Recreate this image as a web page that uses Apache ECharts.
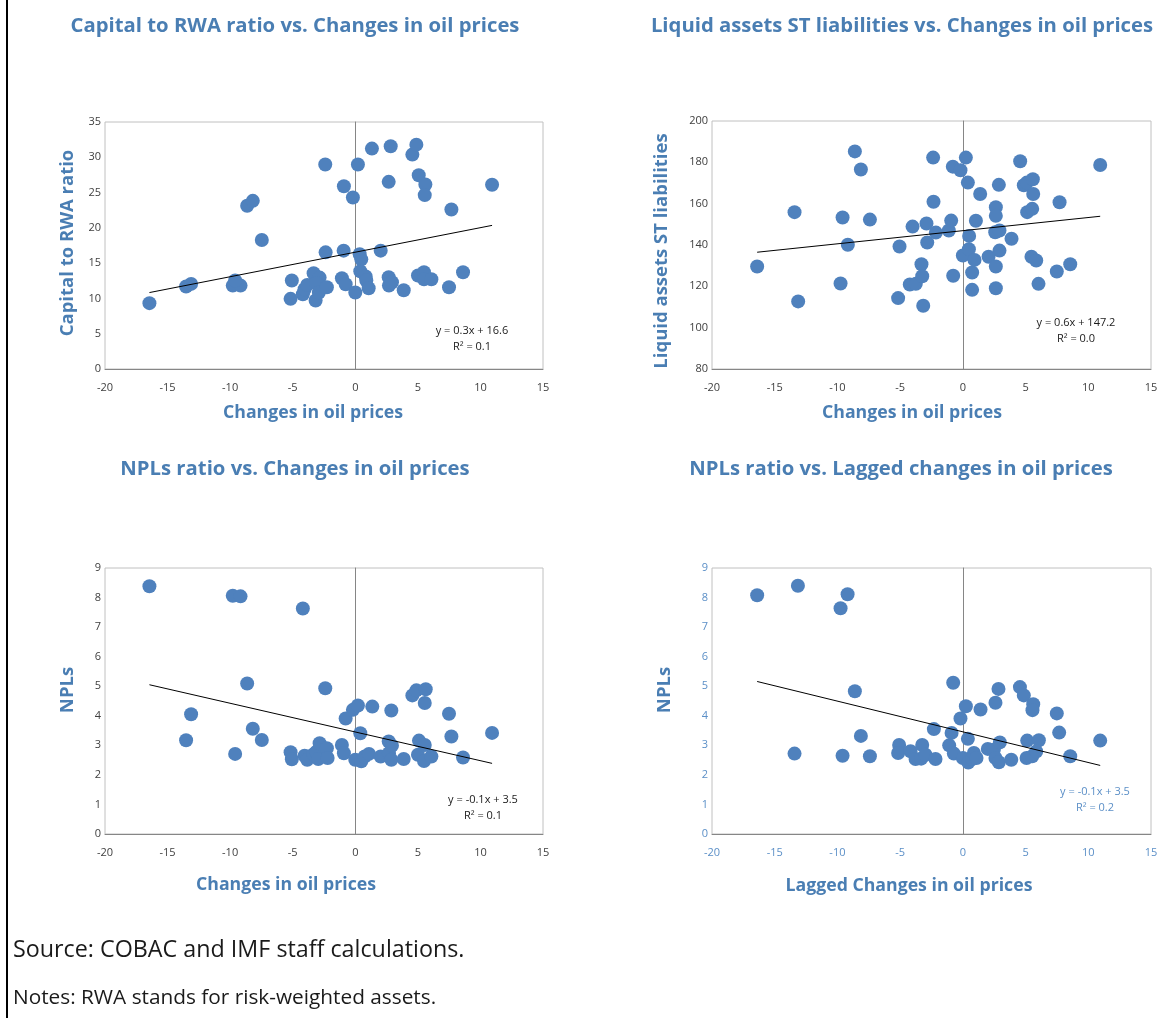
<!DOCTYPE html>
<html>
<head>
<meta charset="utf-8">
<script src="https://cdn.jsdelivr.net/npm/echarts@6/dist/echarts.min.js"></script>
<style>
html,body{margin:0;padding:0;background:#fff;}
#chart{width:1175px;height:1018px;}
</style>
</head>
<body>
<div id="chart"></div>
<script>
// ---------- Data ----------
// Panel 1: Capital to RWA ratio vs. changes in oil prices
var capX = [-16.45,-13.52,-13.12,-9.79,-9.17,-9.6,-8.64,-8.19,-7.47,-5.17,-5.07,-4.19,-4.05,-3.84,-3.33,-2.85,-3.12,-3.17,-2.91,-2.27,-2.4,-2.37,-0.91,-0.93,-1.07,-0.77,-0.19,0,0.21,0.35,0.48,0.4,0.83,0.88,1.07,1.33,2.03,2.67,2.83,2.67,2.69,2.93,3.87,4.56,4.88,5.07,5.6,5.55,5.01,5.49,5.49,6.08,7.68,7.49,8.61,10.93];
var capY = [9.33,11.68,12.06,11.82,11.82,12.55,23.13,23.83,18.28,9.94,12.53,10.6,11.3,11.92,13.57,12.95,12.15,9.7,10.83,11.59,28.97,16.53,25.9,16.77,12.86,12.0,24.3,10.83,28.97,16.25,15.54,13.85,13.1,12.53,11.45,31.23,16.77,26.52,31.56,13.0,11.82,12.29,11.16,30.38,31.79,27.46,26.14,24.64,13.24,13.71,12.72,12.72,22.61,11.59,13.71,26.1];
var capTrendX = [-16.45, 10.93];
var capTrendY = [10.83, 20.35];

// Panel 2: Liquid assets / ST liabilities vs. changes in oil prices
var liqX = [-16.4,-13.42,-13.13,-9.75,-9.59,-9.17,-8.61,-8.13,-7.41,-5.16,-5.05,-4.23,-3.75,-4.01,-3.3,-3.24,-3.16,-2.9,-2.84,-2.37,-2.34,-2.15,-1.12,-0.93,-0.8,-0.77,-0.19,0,0.24,0.4,0.48,0.5,0.74,0.74,0.93,1.04,1.38,2.05,2.63,2.63,2.63,2.63,2.58,2.92,2.87,2.92,3.88,4.57,4.86,5.1,5.58,5.61,5.13,5.53,5.47,5.85,6.03,7.49,7.71,8.56,10.95];
var liqY = [129.6,155.9,112.7,121.4,153.3,140.1,185.3,176.5,152.3,114.3,139.3,120.9,121.2,148.9,130.7,124.9,110.6,150.4,141.2,182.3,160.9,146.0,147.0,151.8,177.9,125.1,176.2,134.9,182.3,170.2,138.0,144.4,118.3,126.7,132.8,151.7,164.7,134.3,158.3,154.1,129.6,119.1,146.2,147.0,169.1,137.3,143.0,180.5,168.9,170.2,171.8,164.7,155.9,157.5,134.3,132.5,121.2,127.2,160.7,130.7,178.7];
var liqTrendX = [-16.4, 10.95];
var liqTrendY = [136.5, 153.9];

// Panel 3: NPLs ratio vs. changes in oil prices
var nplX = [-16.45,-13.52,-13.12,-9.79,-9.17,-9.6,-8.64,-8.19,-7.47,-5.17,-5.07,-4.19,-4.05,-3.84,-3.33,-3.12,-2.85,-2.96,-2.27,-2.21,-2.4,-1.07,-0.91,-0.77,-0.19,0.21,0,0.4,0.48,0.75,1.09,1.36,2.03,2.67,2.88,2.69,2.88,2.93,3.87,4.56,4.88,5.63,5.55,5.09,5.55,5.01,5.49,6.08,7.49,7.68,8.61,10.93];
var nplY = [8.38,3.17,4.05,8.06,8.04,2.71,5.09,3.56,3.18,2.77,2.53,7.63,2.65,2.51,2.7,2.78,3.07,2.54,2.9,2.57,4.93,3.01,2.73,3.91,4.2,4.35,2.51,3.41,2.46,2.62,2.71,4.31,2.62,3.13,4.18,2.73,2.51,2.99,2.54,4.69,4.86,4.9,4.43,3.16,3.01,2.68,2.47,2.62,4.07,3.3,2.59,3.42];
var nplTrendX = [-16.45, 10.93];
var nplTrendY = [5.05, 2.39];

// Panel 4: NPLs ratio vs. lagged changes in oil prices
var lagX = [-16.4,-13.15,-13.42,-9.75,-9.19,-9.59,-8.61,-8.13,-7.41,-5.08,-5.16,-4.17,-3.77,-3.24,-3.32,-2.98,-2.31,-2.18,-1.09,-0.9,-0.77,-0.72,-0.19,0,0.24,0.4,0.43,0.74,0.88,1.09,1.41,1.99,2.47,2.6,2.6,2.84,2.95,2.87,3.86,4.55,4.86,5.61,5.55,5.13,6.06,5.08,5.53,5.85,7.49,7.68,8.56,10.95];
var lagY = [8.08,8.4,2.72,7.64,8.11,2.65,4.83,3.32,2.63,3.01,2.74,2.8,2.54,3.01,2.55,2.68,3.55,2.54,3.0,3.42,5.12,2.72,3.91,2.57,4.32,3.22,2.42,2.54,2.74,2.57,4.21,2.88,2.85,2.57,4.44,4.91,3.1,2.43,2.51,4.97,4.69,4.39,4.19,3.16,3.17,2.57,2.63,2.79,4.08,3.43,2.63,3.16];
var lagTrendX = [-16.4, 10.95];
var lagTrendY = [5.16, 2.32];

var xTicks = [-20, 15, 5];           // min, max, interval
var yRanges = [[0,35,5],[80,200,20],[0,9,1],[0,9,1]];

var titles = ['Capital to RWA ratio vs. Changes in oil prices',
              'Liquid assets ST liabilities vs. Changes in oil prices',
              'NPLs ratio vs. Changes in oil prices',
              'NPLs ratio vs. Lagged changes in oil prices'];
var yNames = ['Capital to RWA ratio','Liquid assets ST liabilities','NPLs','NPLs'];
var xNames = ['Changes in oil prices','Changes in oil prices','Changes in oil prices','Lagged Changes in oil prices'];
var eqs = [['y = 0.3x + 16.6','R\u00B2 = 0.1'],['y = 0.6x + 147.2','R\u00B2 = 0.0'],['y = -0.1x + 3.5','R\u00B2 = 0.1'],['y = -0.1x + 3.5','R\u00B2 = 0.2']];

// ---------- Layout ----------
var grids = [
  {left:105, top:122, width:438, height:247},
  {left:712, top:121, width:439, height:248},
  {left:105, top:568, width:438, height:266},
  {left:712, top:568, width:439, height:266}
];
var titlePos = [[290,11],[897,11],[290,454],[896,454]];
var yNamePos = [[68,243],[662,251],[68,690],[665,690]];
var xNamePos = [[313,413],[912,413],[286,885],[909,886]];
var eqPos = [[472,331],[1076,323],[483,800],[1095,792]];

var TITLE_COLOR = '#4a7eb3';
var DOT = '#4f81bd';
var TICK_COLORS = ['#404040','#404040','#404040','#5b8fc7'];

function pairs(xs, ys){ return xs.map(function(x,i){ return [x, ys[i]]; }); }
var scatterSets = [pairs(capX,capY), pairs(liqX,liqY), pairs(nplX,nplY), pairs(lagX,lagY)];
var trendSets = [pairs(capTrendX,capTrendY), pairs(liqTrendX,liqTrendY), pairs(nplTrendX,nplTrendY), pairs(lagTrendX,lagTrendY)];

var option = {
  backgroundColor:'#ffffff',
  animation:false,
  title: titles.map(function(t,i){
    return {text:t, left:titlePos[i][0], top:titlePos[i][1], textAlign:'center',
      textStyle:{fontFamily:'Open Sans', fontWeight:'bold', fontSize:20.3, color:TITLE_COLOR}};
  }),
  grid: grids.map(function(g){
    return {left:g.left, top:g.top, width:g.width, height:g.height, show:true, borderColor:'#c0c0c0', borderWidth:1, containLabel:false};
  }),
  xAxis: grids.map(function(g,i){
    return {type:'value', gridIndex:i, min:xTicks[0], max:xTicks[1], interval:xTicks[2],
      axisLine:{show:true, onZero:true, lineStyle:{color:'#868686'}},
      axisTick:{show:false}, splitLine:{show:false},
      axisLabel:{color:TICK_COLORS[i], fontFamily:'Open Sans', fontSize:11, margin:13}};
  }),
  yAxis: grids.map(function(g,i){
    return {type:'value', gridIndex:i, min:yRanges[i][0], max:yRanges[i][1], interval:yRanges[i][2],
      axisLine:{show:true, onZero:true, lineStyle:{color:'#868686'}},
      axisTick:{show:false}, splitLine:{show:false},
      axisLabel:{color:TICK_COLORS[i], fontFamily:'Open Sans', fontSize:11, margin:4}};
  }),
  series: [],
  graphic: []
};

for (var i=0;i<4;i++){
  option.series.push({type:'scatter', xAxisIndex:i, yAxisIndex:i, data:scatterSets[i], symbolSize:14,
    itemStyle:{color:DOT, opacity:1}, z:2});
  option.series.push({type:'line', xAxisIndex:i, yAxisIndex:i, data:trendSets[i], symbol:'none',
    lineStyle:{color:'#000000', width:1}, z:3, silent:true});
  option.graphic.push({type:'text', x:yNamePos[i][0], y:yNamePos[i][1], rotation:Math.PI/2,
    style:{text:yNames[i], fill:TITLE_COLOR, font:'bold 18.5px "Open Sans"', align:'center', verticalAlign:'middle'}});
  option.graphic.push({type:'text', x:xNamePos[i][0], y:xNamePos[i][1],
    style:{text:xNames[i], fill:TITLE_COLOR, font:'bold 17.7px "Open Sans"', align:'center', verticalAlign:'middle'}});
  var eqColor = i===3 ? '#5b8fc7' : '#1a1a1a';
  option.graphic.push({type:'text', x:eqPos[i][0], y:eqPos[i][1],
    style:{text:eqs[i][0], fill:eqColor, font:'11px "Open Sans"', align:'center', verticalAlign:'middle'}});
  option.graphic.push({type:'text', x:eqPos[i][0], y:eqPos[i][1]+16,
    style:{text:eqs[i][1], fill:eqColor, font:'11px "Open Sans"', align:'center', verticalAlign:'middle'}});
}
option.graphic.push({type:'line', shape:{x1:7,y1:0,x2:7,y2:1018}, style:{stroke:'#000', lineWidth:2}});
option.graphic.push({type:'text', x:13, y:950, style:{text:'Source: COBAC and IMF staff calculations.', fill:'#1a1a1a', font:'23.3px "Open Sans"', verticalAlign:'middle'}});
option.graphic.push({type:'text', x:13, y:998, style:{text:'Notes: RWA stands for risk-weighted assets.', fill:'#1a1a1a', font:'20.8px "Open Sans"', verticalAlign:'middle'}});

var chart = echarts.init(document.getElementById('chart'), null, {renderer:'canvas'});
chart.setOption(option);
</script>
</body>
</html>
